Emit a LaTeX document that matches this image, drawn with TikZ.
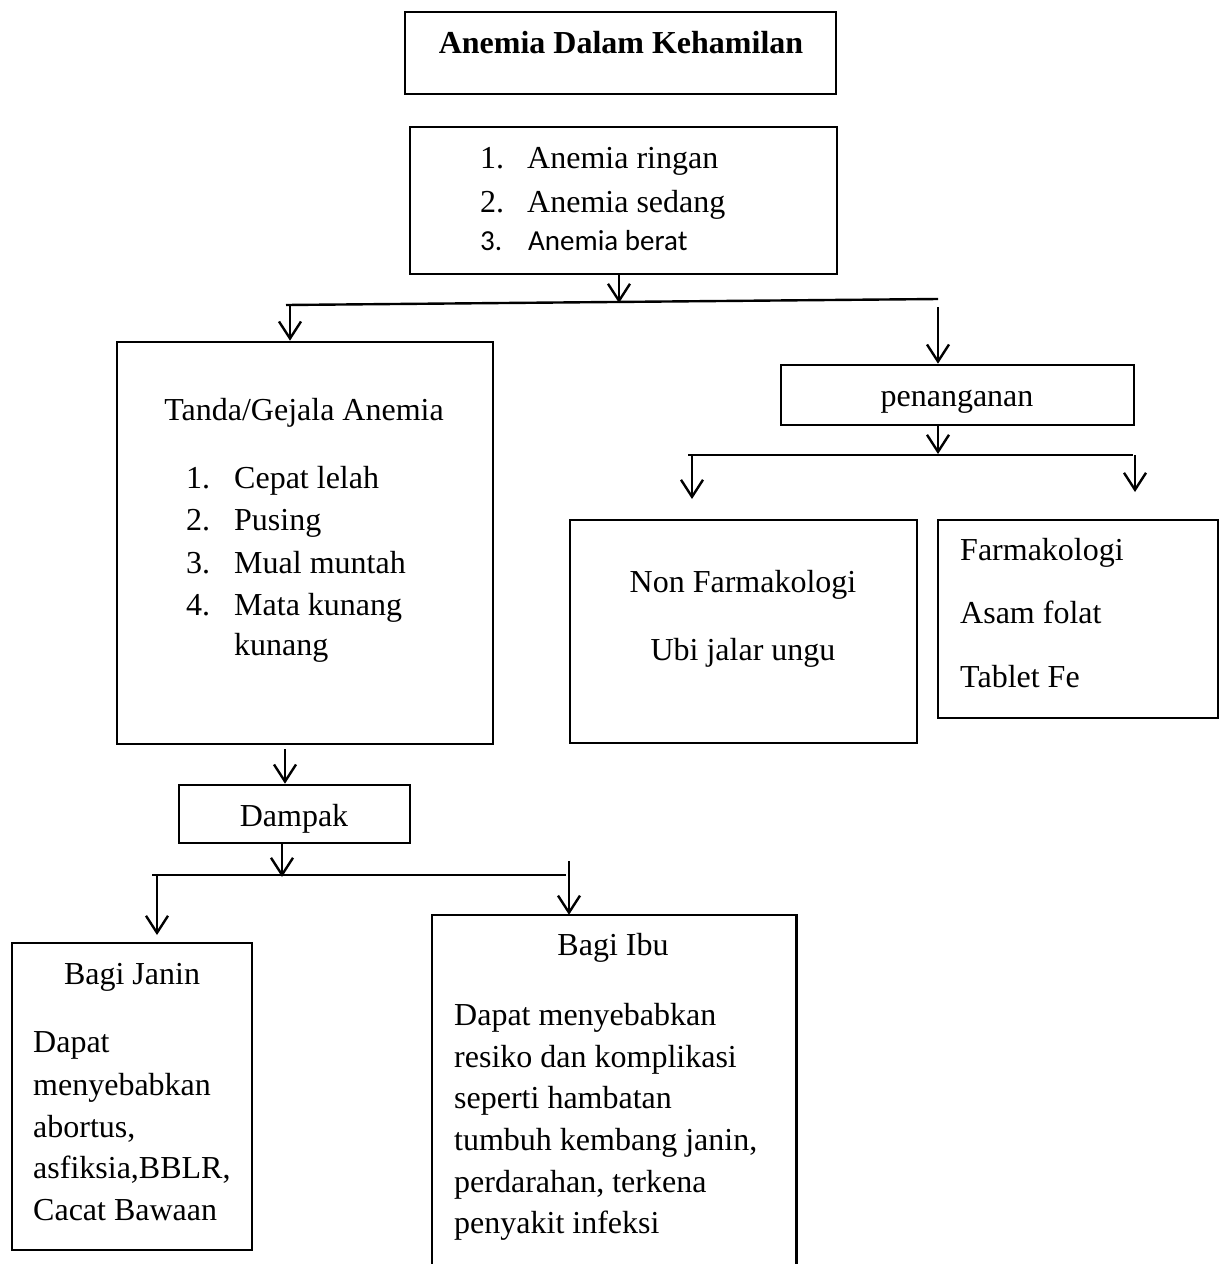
\documentclass[tikz,border=0pt]{standalone}
\usepackage{fontspec}
\setmainfont{Liberation Serif}
\newfontfamily\calibri{Carlito}
\usetikzlibrary{arrows.meta}
\begin{document}
\begin{tikzpicture}[x=1pt,y=-1pt,
  font=\fontsize{32}{42}\selectfont,
  box/.style={draw,line width=2.6pt,inner sep=0pt},
  openbox/.style={inner sep=0pt},
  conn/.style={line width=2.4pt},
  arr/.style={conn,-{Straight Barb[length=17pt,width=22pt]}},
  txt/.style={inner sep=0pt,anchor=base},
  txtl/.style={inner sep=0pt,anchor=base west},
  cal/.style={inner sep=0pt,anchor=base west,font=\calibri\fontsize{29}{38}\selectfont}]
\useasboundingbox (0,0) rectangle (1221,1264);

% boxes
\node[box,minimum width=431pt,minimum height=82pt] (title) at (620.5,53) {};
\node[box,minimum width=427pt,minimum height=147pt] (lev) at (623.5,200.5) {};
\node[box,minimum width=376pt,minimum height=402pt] (tanda) at (305,543) {};
\node[box,minimum width=353pt,minimum height=60pt] (pen) at (957.5,395) {};
\node[box,minimum width=347pt,minimum height=223pt] (non) at (743.5,631.5) {};
\node[box,minimum width=280pt,minimum height=198pt] (farm) at (1078,619) {};
\node[box,minimum width=231pt,minimum height=58pt] (dampak) at (294.5,814) {};
\node[box,minimum width=240pt,minimum height=307pt] (janin) at (132,1096.5) {};
\node[openbox,minimum width=364pt,minimum height=375pt] (ibu) at (614,1102.5) {};
\draw[line width=2.6pt] (ibu.south west) -- (ibu.north west) -- (ibu.north east) -- (ibu.south east);

% texts
\node[txt,font=\fontsize{32}{42}\selectfont\bfseries] (t0) at (621,53) {Anemia Dalam Kehamilan};

\node[txtl] (l1n) at (480,168) {1.};
\node[txtl] (l1) at (527,168) {Anemia ringan};
\node[txtl] (l2n) at (480,212) {2.};
\node[txtl] (l2) at (527,212) {Anemia sedang};
\node[cal] (l3n) at (480,250) {3.};
\node[cal] (l3) at (528,250) {Anemia berat};

\node[txt] (tt) at (304,420) {Tanda/Gejala Anemia};
\node[txtl] (g1n) at (186,488) {1.};
\node[txtl] (g1) at (234,488) {Cepat lelah};
\node[txtl] (g2n) at (186,530) {2.};
\node[txtl] (g2) at (234,530) {Pusing};
\node[txtl] (g3n) at (186,573) {3.};
\node[txtl] (g3) at (234,573) {Mual muntah};
\node[txtl] (g4n) at (186,615) {4.};
\node[txtl] (g4) at (234,615) {Mata kunang};
\node[txtl] (g4b) at (234,655) {kunang};

\node[txt] (pt) at (957,406) {penanganan};
\node[txt] (n1) at (743,592) {Non Farmakologi};
\node[txt] (n2) at (743,660) {Ubi jalar ungu};
\node[txtl] (f1) at (960,560) {Farmakologi};
\node[txtl] (f2) at (960,623) {Asam folat};
\node[txtl] (f3) at (960,687) {Tablet Fe};

\node[txt] (dt) at (294,826) {Dampak};

\node[txt] (jt) at (132,984) {Bagi Janin};
\node[txtl] (j1) at (33,1052) {Dapat};
\node[txtl] (j2) at (33,1095) {menyebabkan};
\node[txtl] (j3) at (33,1137) {abortus,};
\node[txtl] (j4) at (33,1178) {asfiksia,BBLR,};
\node[txtl] (j5) at (33,1220) {Cacat Bawaan};

\node[txt] (it) at (613,955) {Bagi Ibu};
\node[txtl] (i1) at (454,1025) {Dapat menyebabkan};
\node[txtl] (i2) at (454,1067) {resiko dan komplikasi};
\node[txtl] (i3) at (454,1108) {seperti hambatan};
\node[txtl] (i4) at (454,1150) {tumbuh kembang janin,};
\node[txtl] (i5) at (454,1192) {perdarahan, terkena};
\node[txtl] (i6) at (454,1233) {penyakit infeksi};

% connectors
\coordinate (b1c) at (619,303);
\coordinate (b1l) at (286,305);
\coordinate (b1r) at (938,299);
\coordinate (b1a) at (290,305);
\coordinate (b1b) at (938,307);
\draw[arr] (b1c |- lev.south) -- (b1c);
\draw[conn] (b1l) -- (b1r);
\draw[arr] (b1a) -- (b1a |- tanda.north);
\draw[arr] (b1b) -- (b1b |- pen.north);

\coordinate (b2c) at (938,454);
\coordinate (b2l) at (688,455);
\coordinate (b2r) at (1133,455);
\coordinate (b2a) at (692,455);
\coordinate (b2ae) at (692,499);
\coordinate (b2b) at (1135,455);
\coordinate (b2be) at (1135,492);
\draw[arr] (b2c |- pen.south) -- (b2c);
\draw[conn] (b2l) -- (b2r);
\draw[arr] (b2a) -- (b2ae);
\draw[arr] (b2b) -- (b2be);

\coordinate (dtop) at (285,749);
\draw[arr] (dtop) -- (dtop |- dampak.north);

\coordinate (b3c) at (282,877);
\coordinate (b3l) at (152,875);
\coordinate (b3r) at (566,875);
\coordinate (b3a) at (157,875);
\coordinate (b3ae) at (157,935);
\coordinate (b3b) at (569,861);
\draw[arr] (b3c |- dampak.south) -- (b3c);
\draw[conn] (b3l) -- (b3r);
\draw[arr] (b3a) -- (b3ae);
\draw[arr] (b3b) -- (b3b |- ibu.north);
\end{tikzpicture}
\end{document}
